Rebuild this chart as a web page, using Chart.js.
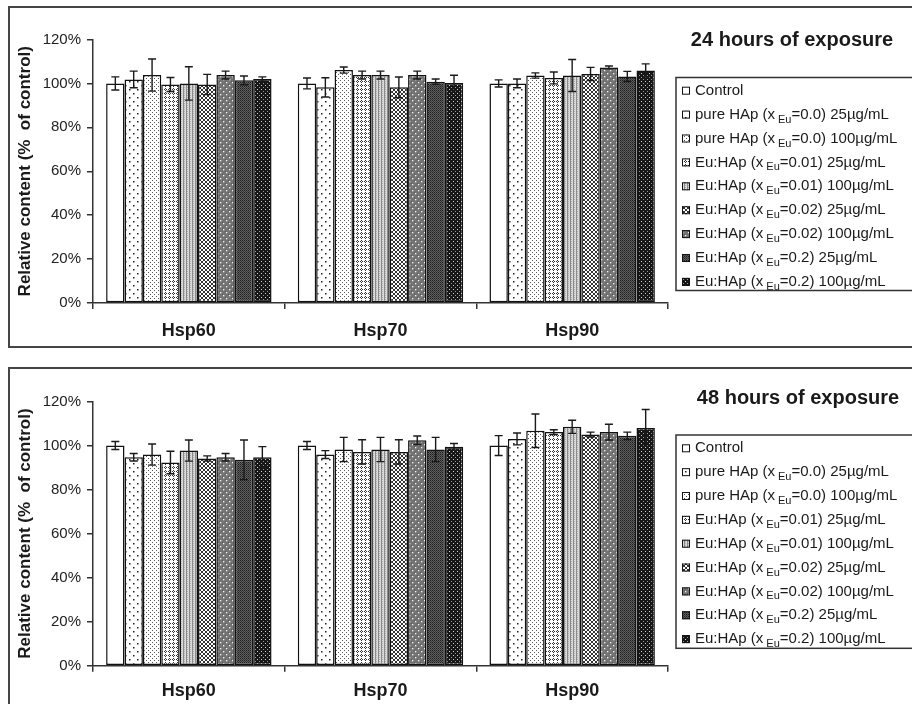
<!DOCTYPE html>
<html>
<head>
<meta charset="utf-8">
<script src="https://cdn.jsdelivr.net/npm/chart.js@4.4.1/dist/chart.umd.min.js"></script>
<style>
  html, body { margin: 0; padding: 0; background: #fff; width: 912px; height: 704px; overflow: hidden; }
  .frame { position: absolute; border: 2px solid #454545; box-sizing: border-box; }
  #frame24 { left: 8px; top: 6px; width: 940px; height: 342px; }
  #frame48 { left: 8px; top: 367px; width: 940px; height: 380px; }
  canvas { position: absolute; left: 0; }
  #chart24 { top: 0; }
  #chart48 { top: 362px; }
</style>
</head>
<body>
<div class="frame" id="frame24"></div>
<div class="frame" id="frame48"></div>
<canvas id="chart24" width="912" height="357"></canvas>
<canvas id="chart48" width="912" height="342"></canvas>
<script>
// ---- data ----
const proteins = ['Hsp60', 'Hsp70', 'Hsp90'];
const treatments = [
  'Control',
  'pure HAp (xEu=0.0) 25µg/mL',
  'pure HAp (xEu=0.0) 100µg/mL',
  'Eu:HAp (xEu=0.01) 25µg/mL',
  'Eu:HAp (xEu=0.01) 100µg/mL',
  'Eu:HAp (xEu=0.02) 25µg/mL',
  'Eu:HAp (xEu=0.02) 100µg/mL',
  'Eu:HAp (xEu=0.2) 25µg/mL',
  'Eu:HAp (xEu=0.2) 100µg/mL'
];
const yTickLabels = ['0%', '20%', '40%', '60%', '80%', '100%', '120%'];
const yAxisTitle = 'Relative content (%  of control)';
const panelTitles = ['24 hours of exposure', '48 hours of exposure'];

// 24 h: mean relative content (% of control), one value per treatment
const hsp60_24h = [100, 101.8, 103.8, 99.5, 100, 99.5, 103.8, 101.4, 102];
const hsp70_24h = [100, 98.2, 106.1, 103.8, 103.8, 98.2, 103.8, 100.8, 100.2];
const hsp90_24h = [100, 100, 103.6, 102.5, 103.6, 104.3, 107.3, 103.2, 105.9];
// 24 h: standard deviations
const hsp60_24h_sd = [3, 3.8, 7.3, 3.2, 7.6, 4.6, 1.8, 2, 1];
const hsp70_24h_sd = [2.5, 4.4, 1.4, 1.8, 1.8, 4.7, 1.8, 1.2, 3.5];
const hsp90_24h_sd = [1.6, 2, 1.2, 2.7, 7.3, 3, 0.6, 2.3, 3];

// 48 h: mean relative content (% of control)
const hsp60_48h = [100, 94.7, 95.9, 92.3, 97.7, 94.1, 94.7, 93.5, 94.7];
const hsp70_48h = [100, 95.9, 98.2, 97.1, 98.2, 97.1, 102.4, 98.2, 99.4];
const hsp90_48h = [100, 103, 106.7, 106.1, 108.5, 105, 106.1, 104.4, 108];
// 48 h: standard deviations
const hsp60_48h_sd = [1.8, 1.7, 4.8, 5.1, 4.8, 1.2, 1.7, 9, 4.8];
const hsp70_48h_sd = [1.8, 1.8, 5.5, 5.5, 5.5, 5.5, 1.9, 5.5, 1.5];
const hsp90_48h_sd = [4.5, 2.7, 7.6, 1.1, 3, 1.1, 3.6, 1.7, 8.4];

// ---- fill patterns (monochrome, one per treatment) ----
const FONT = '"Liberation Sans", Arial, sans-serif';

function tile(size, bg, dots) {
  const c = document.createElement('canvas');
  c.width = size[0]; c.height = size[1];
  const g = c.getContext('2d');
  g.fillStyle = bg; g.fillRect(0, 0, size[0], size[1]);
  dots.forEach(([x, y, col, w, h]) => { g.fillStyle = col; g.fillRect(x, y, w || 1, h || 1); });
  return c.getContext('2d').createPattern(c, 'repeat');
}
const fills = [
  '#ffffff',
  tile([8, 8], '#ffffff', [[1, 1, '#222', 1.5, 1.5], [5, 5, '#222', 1.5, 1.5]]),
  tile([4, 4], '#ffffff', [[0, 0, '#555'], [2, 2, '#555']]),
  tile([4, 4], '#ffffff', [[1, 0, '#333'], [0, 1, '#333'], [2, 1, '#333'], [1, 2, '#333']]),
  tile([3, 2], '#dadada', [[0, 0, '#8a8a8a', 1, 2], [1, 1, '#b0b0b0']]),
  tile([4, 4], '#ffffff', [[0, 0, '#333'], [1, 1, '#333'], [2, 2, '#333'], [3, 3, '#333'],
                           [0, 3, '#333'], [1, 2, '#333'], [2, 1, '#333'], [3, 0, '#333']]),
  tile([6, 6], '#747474', [[0, 0, '#5a5a5a'], [3, 3, '#5a5a5a'], [1, 1, '#f4f4f4', 1.3, 1.3], [4, 4, '#f4f4f4', 1.3, 1.3]]),
  tile([2, 2], '#5e5e5e', [[0, 0, '#1e1e1e'], [1, 1, '#3a3a3a']]),
  tile([4, 4], '#161616', [[1, 1, '#d8d8d8'], [3, 3, '#9a9a9a']])
];

// ---- plugins ----
const errorBars = {
  id: 'errorBars',
  afterDatasetsDraw(chart) {
    const ctx = chart.ctx;
    const yScale = chart.scales.y;
    ctx.save();
    ctx.strokeStyle = '#1a1a1a';
    ctx.lineWidth = 1.4;
    chart.data.datasets.forEach((ds, i) => {
      const meta = chart.getDatasetMeta(i);
      meta.data.forEach((bar, j) => {
        const v = ds.data[j], e = ds.sd[j];
        const yHi = yScale.getPixelForValue(v + e);
        const yLo = yScale.getPixelForValue(v - e);
        const x = bar.x;
        ctx.beginPath();
        ctx.moveTo(x, yHi); ctx.lineTo(x, yLo);
        ctx.moveTo(x - 4, yHi); ctx.lineTo(x + 4, yHi);
        ctx.moveTo(x - 4, yLo); ctx.lineTo(x + 4, yLo);
        ctx.stroke();
      });
    });
    ctx.restore();
  }
};

function drawTreatmentLabel(ctx, text, x, y) {
  const key = 'xEu';
  const k = text.indexOf(key);
  ctx.font = '15px ' + FONT;
  if (k < 0) { ctx.fillText(text, x, y); return; }
  const head = text.slice(0, k + 1);
  const tail = text.slice(k + key.length);
  ctx.fillText(head, x, y);
  let cx = x + ctx.measureText(head).width + 3;
  ctx.font = '11px ' + FONT;
  ctx.fillText('Eu', cx, y + 5);
  cx += ctx.measureText('Eu').width;
  ctx.font = '15px ' + FONT;
  ctx.fillText(tail, cx, y);
}

const panelLegend = {
  id: 'panelLegend',
  afterDraw(chart, args, opts) {
    const ctx = chart.ctx;
    ctx.save();
    ctx.fillStyle = '#1a1a1a';
    ctx.textAlign = 'center';
    ctx.textBaseline = 'middle';
    ctx.font = 'bold 20px ' + FONT;
    ctx.fillText(opts.title, opts.titleX, opts.titleY);

    ctx.strokeStyle = '#333';
    ctx.lineWidth = 1.5;
    ctx.strokeRect(676, opts.boxTop, 300, opts.boxHeight);

    ctx.textAlign = 'left';
    chart.data.datasets.forEach((ds, i) => {
      const y = opts.firstRow + i * opts.rowStep;
      ctx.fillStyle = ds.backgroundColor;
      ctx.fillRect(682, y - 4, 8, 8);
      ctx.strokeStyle = '#111';
      ctx.lineWidth = 1;
      ctx.strokeRect(682.5, y - 3.5, 7, 7);
      ctx.fillStyle = '#1a1a1a';
      drawTreatmentLabel(ctx, ds.label, 695, y);
    });
    ctx.restore();
  }
};

// ---- chart builder ----
function buildPanel(canvasId, series, sds, legendOpts, axisHeight, labelPad) {
  const datasets = treatments.map((name, i) => ({
    label: name,
    data: series.map(s => s[i]),
    sd: sds.map(s => s[i]),
    backgroundColor: fills[i],
    borderColor: '#111',
    borderWidth: 1.5,
    borderSkipped: false
  }));
  return new Chart(document.getElementById(canvasId), {
    type: 'bar',
    data: { labels: proteins, datasets },
    plugins: [errorBars, panelLegend],
    options: {
      responsive: false,
      animation: false,
      layout: { padding: { top: 39.5, right: 244, left: 0, bottom: 0 } },
      datasets: { bar: { categoryPercentage: 0.863, barPercentage: 1 } },
      plugins: {
        legend: { display: false },
        tooltip: { enabled: false },
        panelLegend: legendOpts
      },
      scales: {
        x: {
          grid: { drawOnChartArea: false, drawTicks: true, tickLength: 6, color: '#333', lineWidth: 1.5 },
          border: { display: true, color: '#333', width: 1.5 },
          ticks: { font: { family: FONT, size: 18, weight: 'bold' }, color: '#1a1a1a', padding: labelPad },
          afterFit(s) { s.height = axisHeight; }
        },
        y: {
          min: 0, max: 120,
          grid: { drawOnChartArea: false, drawTicks: true, tickLength: 6, color: '#333', lineWidth: 1.5 },
          border: { display: true, color: '#333', width: 1.5 },
          ticks: {
            stepSize: 20,
            padding: 6,
            color: '#222',
            font: { family: FONT, size: 15 },
            callback: (v, idx) => yTickLabels[idx]
          },
          title: {
            display: true,
            text: yAxisTitle,
            color: '#1a1a1a',
            font: { family: FONT, size: 17, weight: 'bold' },
            padding: { top: 15, bottom: 0 }
          },
          afterFit(s) { s.width = 93; }
        }
      }
    }
  });
}

buildPanel('chart24',
  [hsp60_24h, hsp70_24h, hsp90_24h],
  [hsp60_24h_sd, hsp70_24h_sd, hsp90_24h_sd],
  { title: panelTitles[0], titleX: 792, titleY: 40, boxTop: 77.5, boxHeight: 213, firstRow: 90.7, rowStep: 23.9 },
  54, 11);

buildPanel('chart48',
  [hsp60_48h, hsp70_48h, hsp90_48h],
  [hsp60_48h_sd, hsp70_48h_sd, hsp90_48h_sd],
  { title: panelTitles[1], titleX: 798, titleY: 36.3, boxTop: 73, boxHeight: 213.3, firstRow: 86.3, rowStep: 23.85 },
  38.3, 9);
</script>
</body>
</html>
